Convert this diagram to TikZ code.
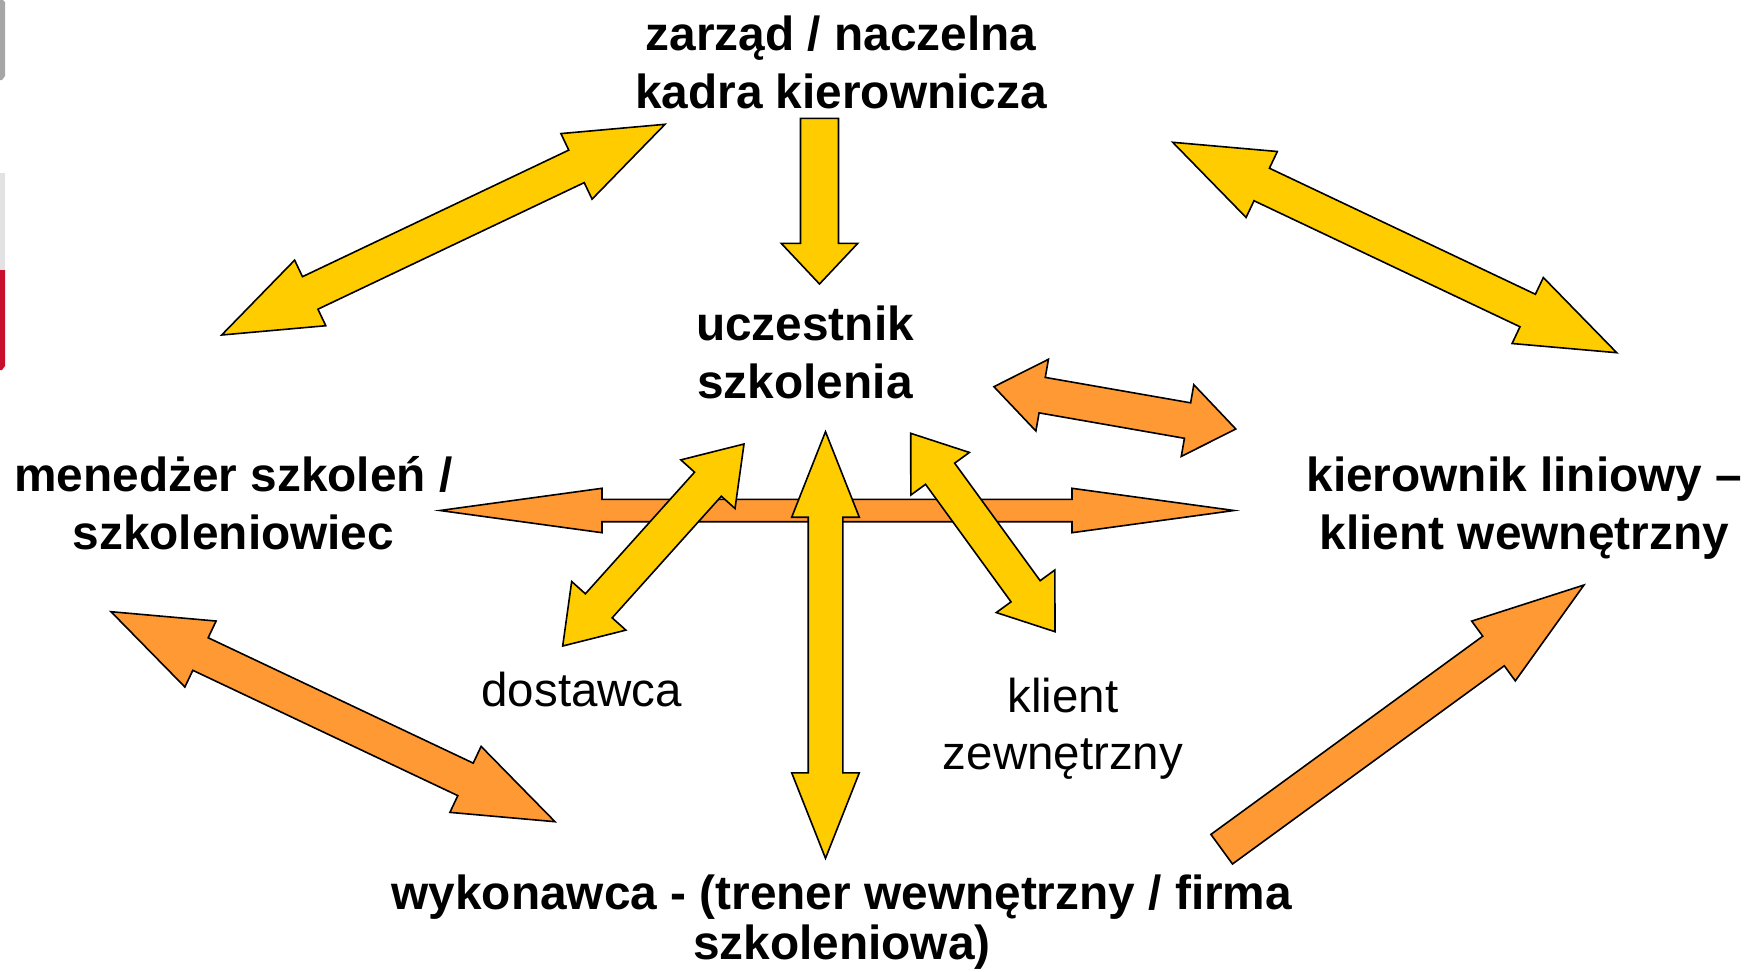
\documentclass[tikz,border=0pt]{standalone}
\usepackage{fontspec}
\setmainfont{Liberation Sans}
\usetikzlibrary{calc}
\definecolor{ayellow}{HTML}{FFCC00}
\definecolor{aorange}{HTML}{FF9933}
\definecolor{barred}{RGB}{200,16,46}
\definecolor{bargrey}{RGB}{166,166,166}
\definecolor{barlight}{RGB}{226,226,226}
\newcommand\tsx{\rule{0pt}{37pt}}
% #1 style, #2 start, #3 end, #4 head length, #5 head half width, #6 shaft half width
\newcommand\dblarrow[6]{%
  \draw[#1] (#2)
    -- ($(#2)!#4!(#3)!#5!90:(#3)$)
    -- ($(#2)!#4!(#3)!#6!90:(#3)$)
    -- ($(#3)!#4!(#2)!#6!-90:(#2)$)
    -- ($(#3)!#4!(#2)!#5!-90:(#2)$)
    -- (#3)
    -- ($(#3)!#4!(#2)!#5!90:(#2)$)
    -- ($(#3)!#4!(#2)!#6!90:(#2)$)
    -- ($(#2)!#4!(#3)!#6!-90:(#3)$)
    -- ($(#2)!#4!(#3)!#5!-90:(#3)$)
    -- cycle;}
% #1 style, #2 tail centre, #3 tip, #4 head length, #5 head half width, #6 shaft half width
\newcommand\sglarrow[6]{%
  \draw[#1] ($(#2)!#6!90:(#3)$)
    -- ($(#3)!#4!(#2)!#6!-90:(#2)$)
    -- ($(#3)!#4!(#2)!#5!-90:(#2)$)
    -- (#3)
    -- ($(#3)!#4!(#2)!#5!90:(#2)$)
    -- ($(#3)!#4!(#2)!#6!90:(#2)$)
    -- ($(#2)!#6!-90:(#3)$)
    -- cycle;}
\begin{document}
\begin{tikzpicture}[x=1pt,y=-1pt,
  yarr/.style={fill=ayellow,draw=black,line width=1.6pt,line join=miter},
  oarr/.style={fill=aorange,draw=black,line width=1.6pt,line join=miter},
  lbl/.style={font=\bfseries\fontsize{47.8}{58}\selectfont,align=center,inner sep=0pt,anchor=north,text=black},
  lblr/.style={font=\fontsize{47.5}{56.5}\selectfont,align=center,inner sep=0pt,anchor=north,text=black}]
\useasboundingbox (0,0) rectangle (1746,972);
% slide template remnants on the left edge
\fill[bargrey] (0,0) -- (3,0) -- (5,2) -- (5,76) -- (2,80) -- (0,80) -- cycle;
\fill[barlight] (0,173) rectangle (5,270);
\fill[barred] (0,270) -- (5,270) -- (5,366) -- (2,370) -- (0,370) -- cycle;

% labels
\node[lbl] (board) at (841,13) {\tsx zarząd / naczelna\\kadra kierownicza};
\node[lbl] (part) at (805,303.7) {\tsx uczestnik\\szkolenia};
\node[lbl] (mgr) at (233.4,454.7) {\tsx menedżer szkoleń /\\szkoleniowiec};
\node[lbl] (line) at (1524.3,454.7) {\tsx kierownik liniowy –\\klient wewnętrzny};
\node[lblr] (supp) at (581.8,669) {\tsx dostawca};
\node[lblr] (ext) at (1063,675.5) {\tsx klient\\zewnętrzny};
\node[lbl,font=\bfseries\fontsize{47.8}{50}\selectfont] (exec) at (841.8,872.3) {\tsx wykonawca - (trener wewnętrzny / firma\\szkoleniowa)};

% arrow end points
\coordinate (hA) at (440,510.5);   \coordinate (hB) at (1234,510.5);
\coordinate (tlA) at (221.7,335);  \coordinate (tlB) at (665,124.3);
\coordinate (dnA) at (819.5,118.3); \coordinate (dnB) at (819.5,284);
\coordinate (trA) at (1172.7,142.3); \coordinate (trB) at (1616.7,352.7);
\coordinate (smA) at (993.9,386.7); \coordinate (smB) at (1235.8,429);
\coordinate (dsA) at (562.7,646);  \coordinate (dsB) at (744,444);
\coordinate (vtA) at (825.5,431.7); \coordinate (vtB) at (825.5,858.3);
\coordinate (klA) at (910.7,433.3); \coordinate (klB) at (1055,631.7);
\coordinate (blA) at (111,611.7);  \coordinate (blB) at (555,821.7);
\coordinate (brA) at (1221.7,849.2); \coordinate (brB) at (1584,585);

% arrows
\dblarrow{oarr}{hA}{hB}{162pt}{22.2pt}{11.2pt}
\dblarrow{yarr}{tlA}{tlB}{98pt}{36.3pt}{18pt}
\sglarrow{yarr}{dnA}{dnB}{40.7pt}{38.3pt}{19pt}
\dblarrow{yarr}{trA}{trB}{98.5pt}{36.5pt}{18pt}
\dblarrow{oarr}{smA}{smB}{49pt}{36.4pt}{18pt}
\dblarrow{yarr}{dsA}{dsB}{54pt}{36.4pt}{18pt}
\dblarrow{yarr}{vtA}{vtB}{85.5pt}{33.8pt}{17.3pt}
\dblarrow{yarr}{klA}{klB}{50pt}{36.2pt}{18pt}
\dblarrow{oarr}{blA}{blB}{99pt}{36.5pt}{18pt}
\sglarrow{oarr}{brA}{brB}{112pt}{37pt}{18.3pt}
\end{tikzpicture}
\end{document}
